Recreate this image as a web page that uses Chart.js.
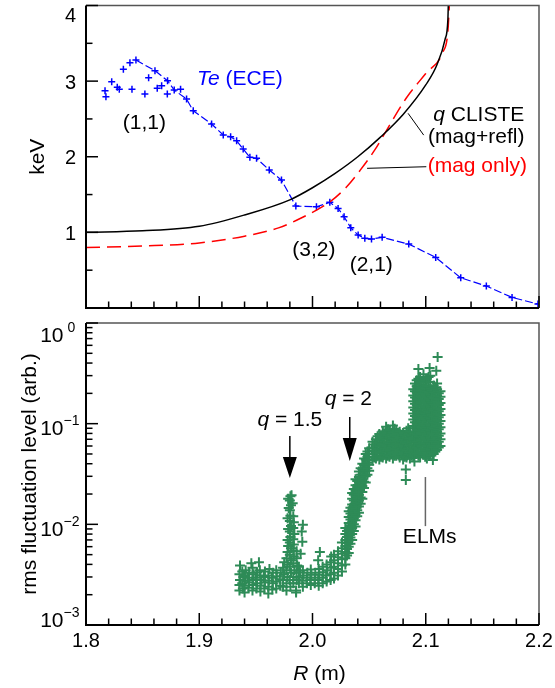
<!DOCTYPE html>
<html>
<head>
<meta charset="utf-8">
<script src="https://cdn.jsdelivr.net/npm/chart.js@4.4.1/dist/chart.umd.min.js"></script>
<style>
  html, body { margin: 0; padding: 0; background: #fff; }
  #wrap { position: relative; width: 555px; height: 688px; }
  canvas { position: absolute; left: 0; }
  #teChart { top: 0; }
  #flucChart { top: 315px; }
</style>
</head>
<body>
<div id="wrap">
  <canvas id="teChart" width="555" height="315"></canvas>
  <canvas id="flucChart" width="555" height="373"></canvas>
</div>
<script>
// ---- top panel: ECE electron temperature and q profiles ----
const teR = [1.8441, 1.8609, 1.872, 1.8779, 1.8888, 1.8947, 1.9109, 1.9212, 1.9277, 1.933, 1.9388,
  1.9447, 1.9506, 1.9618, 1.9726, 1.9853, 2.0035, 2.0153, 2.0226, 2.0279, 2.0338, 2.0403, 2.0462,
  2.0521, 2.0615, 2.085, 2.1088, 2.1309, 2.1535, 2.1762, 2.1991];
const teKeV = [3.279, 3.138, 3.005, 2.882, 2.763, 2.608, 2.433, 2.287, 2.265, 2.212, 2.102,
  1.992, 1.979, 1.824, 1.692, 1.348, 1.339, 1.397, 1.317, 1.206, 1.061, 0.964, 0.921,
  0.911, 0.934, 0.845, 0.669, 0.399, 0.29, 0.14, 0.052];
// scattered points inside the (1,1) region, not joined
const te11R = [1.8168, 1.8176, 1.8227, 1.8276, 1.8294, 1.833, 1.8388, 1.8406, 1.852, 1.8553,
  1.8629, 1.8668, 1.8718, 1.8835];
const te11KeV = [2.873, 2.794, 2.992, 2.918, 2.892, 3.156, 3.243, 2.892, 2.829, 3.045,
  2.905, 2.939, 2.829, 2.892];

const qR = [1.8, 1.85, 1.9, 1.94, 1.98, 2.0, 2.02, 2.04, 2.06, 2.08, 2.1, 2.11, 2.117, 2.1195, 2.12];
const qMagRefl = [1.0, 1.02, 1.08, 1.23, 1.43, 1.59, 1.78, 2.0, 2.26, 2.56, 2.95, 3.22, 3.55, 3.8, 4.05];
const qOnlyR = [1.8, 1.85, 1.9, 1.94, 1.97, 1.99, 2.015, 2.03, 2.042, 2.055, 2.065, 2.083, 2.1, 2.115, 2.1195, 2.121];
const qMagOnly = [0.8, 0.82, 0.86, 0.95, 1.06, 1.19, 1.4, 1.6, 1.82, 2.09, 2.34, 2.78, 3.1, 3.38, 3.65, 4.05];

// ---- axis ticks ----
const xMajor = [1.8, 1.9, 2.0, 2.1, 2.2];
const xMinor = [1.82, 1.84, 1.86, 1.88, 1.92, 1.94, 1.96, 1.98, 2.02, 2.04, 2.06, 2.08, 2.12, 2.14, 2.16, 2.18];
const keVMajor = [1, 2, 3, 4];
const keVMinor = [0.5, 1.5, 2.5, 3.5];
const decades = [1e-3, 1e-2, 1e-1, 1];
const decadeExp = ['\u22123', '\u22122', '\u22121', ' 0'];
const logSteps = [2, 3, 4, 5, 6, 7, 8, 9];

// ---- bottom panel: rms fluctuation level, [R, level] ----
const flatBase = [
  [1.9355,2.2e-3],[1.9355,2.5e-3],[1.936,2.8e-3],[1.9355,3.2e-3],[1.936,3.9e-3],
  [1.9385,2.3e-3],[1.938,2.6e-3],[1.939,3.0e-3],[1.938,3.4e-3],
  [1.940,2.1e-3],[1.940,2.45e-3],[1.941,2.75e-3],[1.940,3.1e-3],[1.941,3.5e-3],
  [1.9435,2.35e-3],[1.944,2.65e-3],[1.943,2.95e-3],[1.944,3.3e-3],
  [1.947,2.2e-3],[1.9475,2.5e-3],[1.947,2.8e-3],[1.948,3.2e-3],[1.947,3.7e-3],[1.946,4.1e-3],
  [1.9505,2.3e-3],[1.951,2.6e-3],[1.950,2.95e-3],[1.951,3.35e-3],
  [1.954,2.15e-3],[1.954,2.45e-3],[1.955,2.8e-3],[1.954,3.1e-3],[1.9535,3.5e-3],[1.9527,4.2e-3],
  [1.9575,2.3e-3],[1.958,2.65e-3],[1.957,3.0e-3],[1.958,3.4e-3],
  [1.961,2.05e-3],[1.961,2.4e-3],[1.9615,2.75e-3],[1.961,3.1e-3],[1.962,3.6e-3],
  [1.9645,2.25e-3],[1.965,2.6e-3],[1.964,2.95e-3],[1.965,3.3e-3],
  [1.968,2.3e-3],[1.968,2.7e-3],[1.9685,3.05e-3],[1.968,3.5e-3],
  [1.9715,2.45e-3],[1.971,2.85e-3],[1.972,3.3e-3]
];
const peak15 = [
  [1.974,2.4e-3],[1.974,2.8e-3],[1.975,3.2e-3],[1.974,3.7e-3],[1.975,4.2e-3],
  [1.977,2.2e-3],[1.977,2.6e-3],[1.978,3.0e-3],[1.977,3.5e-3],[1.978,4.0e-3],[1.977,4.6e-3],[1.978,5.3e-3],
  [1.9785,6.1e-3],[1.978,7.0e-3],[1.9785,9.0e-3],[1.978,1.15e-2],[1.979,1.45e-2],[1.9785,1.8e-2],
  [1.9805,2.4e-3],[1.980,2.8e-3],[1.981,3.3e-3],[1.980,3.8e-3],[1.981,4.4e-3],[1.980,5.0e-3],[1.981,5.8e-3],
  [1.980,6.6e-3],[1.9805,7.5e-3],[1.980,8.5e-3],[1.981,9.6e-3],[1.980,1.08e-2],[1.9805,1.22e-2],
  [1.980,1.38e-2],[1.981,1.55e-2],[1.980,1.72e-2],[1.9805,1.9e-2],
  [1.983,2.6e-3],[1.983,3.0e-3],[1.984,3.5e-3],[1.983,4.1e-3],[1.9835,4.8e-3],[1.983,5.5e-3],[1.9835,6.3e-3],
  [1.983,7.1e-3],[1.984,8.0e-3],[1.983,9.2e-3],[1.9835,1.05e-2],[1.983,1.2e-2],[1.9825,1.62e-2],[1.9815,1.95e-2],
  [1.986,2.8e-3],[1.986,3.3e-3],[1.9865,3.9e-3],[1.986,4.6e-3],[1.986,5.4e-3],[1.9855,2.2e-3]
];
const gapBase = [
  [1.988,2.6e-3],[1.988,2.95e-3],[1.989,3.35e-3],[1.988,3.8e-3],
  [1.9915,2.4e-3],[1.991,2.75e-3],[1.992,3.1e-3],[1.9915,3.5e-3],
  [1.995,2.6e-3],[1.995,2.95e-3],[1.9955,3.3e-3],
  [1.9985,2.5e-3],[1.998,2.8e-3],[1.999,3.15e-3],[1.9985,3.55e-3],
  [2.002,2.6e-3],[2.002,2.95e-3],[2.0025,3.3e-3],
  [2.0055,2.45e-3],[2.005,2.8e-3],[2.006,3.15e-3],[2.0055,3.6e-3],
  [2.009,2.6e-3],[2.009,2.95e-3],[2.0095,3.35e-3],[2.009,3.8e-3],
  [2.0125,2.7e-3],[2.012,3.1e-3],[2.013,3.5e-3],[2.0125,4.0e-3],
  [2.016,2.8e-3],[2.016,3.2e-3],[2.0165,3.7e-3],[2.016,4.2e-3],[2.0165,4.8e-3]
];
const strays = [
  [1.9915,9.9e-3],[1.9905,8.5e-3],[1.991,6.7e-3],[1.9895,5.1e-3],[2.0065,5.3e-3],[2.005,4.4e-3],
  [1.9855,2.1e-3],[2.0824,3.5e-2],[2.0824,2.75e-2],[2.090,4.2e-2],[2.1063,4.35e-2],[2.1105,0.46],
  [2.0935,0.35],[2.1034,0.357],[2.1093,0.335]
];
// [R, level, level, ...]
const riseCols = [
  [2.019, 2.9e-3,3.3e-3,3.8e-3,4.4e-3,5.0e-3],
  [2.0225, 3.1e-3,3.6e-3,4.1e-3,4.7e-3,5.4e-3],
  [2.026, 3.4e-3,3.9e-3,4.5e-3,5.1e-3,5.8e-3,6.6e-3],
  [2.029, 4.0e-3,4.6e-3,5.3e-3,6.1e-3,7.0e-3,8.0e-3,9.2e-3],
  [2.0305, 4.9e-3,5.7e-3,6.5e-3,7.5e-3,8.6e-3],
  [2.032, 5.2e-3,6.0e-3,6.9e-3,7.9e-3,9.0e-3,1.03e-2,1.18e-2,1.35e-2],
  [2.0335, 6.4e-3,7.4e-3,8.6e-3,9.8e-3,1.12e-2,1.28e-2,1.46e-2],
  [2.035, 7.0e-3,8.0e-3,9.2e-3,1.05e-2,1.2e-2,1.37e-2,1.57e-2,1.8e-2,2.05e-2],
  [2.0365, 8.6e-3,1.0e-2,1.15e-2,1.32e-2,1.52e-2,1.72e-2,1.97e-2,2.25e-2],
  [2.038, 9.5e-3,1.1e-2,1.26e-2,1.44e-2,1.65e-2,1.9e-2,2.15e-2,2.45e-2,2.8e-2],
  [2.0395, 1.2e-2,1.38e-2,1.58e-2,1.8e-2,2.06e-2,2.35e-2,2.7e-2],
  [2.041, 1.3e-2,1.5e-2,1.72e-2,1.97e-2,2.25e-2,2.6e-2,2.95e-2,3.35e-2],
  [2.0425, 1.6e-2,1.85e-2,2.1e-2,2.4e-2,2.75e-2,3.1e-2,3.6e-2],
  [2.044, 1.8e-2,2.1e-2,2.4e-2,2.75e-2,3.1e-2,3.55e-2,4.0e-2],
  [2.0455, 2.3e-2,2.65e-2,3.0e-2,3.45e-2,3.9e-2,4.5e-2],
  [2.047, 2.6e-2,3.0e-2,3.4e-2,3.9e-2,4.4e-2,5.0e-2],
  [2.0485, 3.1e-2,3.6e-2,4.1e-2,4.7e-2,5.3e-2],
  [2.050, 3.4e-2,3.9e-2,4.4e-2,5.0e-2,5.7e-2]
];
const plateauCols = [
  [2.053, 4.3e-2,5.0e-2,5.8e-2,6.6e-2],
  [2.0545, 4.6e-2,5.4e-2,6.2e-2],
  [2.056, 4.5e-2,5.2e-2,6.0e-2,7.0e-2],
  [2.0575, 4.8e-2,5.6e-2,6.5e-2,7.5e-2],
  [2.059, 4.4e-2,5.1e-2,5.9e-2,6.8e-2,7.9e-2],
  [2.0605, 4.7e-2,5.5e-2,6.4e-2,7.4e-2],
  [2.062, 4.6e-2,5.3e-2,6.2e-2,7.2e-2,8.4e-2],
  [2.0635, 4.9e-2,5.7e-2,6.6e-2,7.7e-2],
  [2.065, 4.5e-2,5.2e-2,6.0e-2,7.0e-2,8.1e-2,9.3e-2],
  [2.0665, 4.8e-2,5.6e-2,6.5e-2,7.6e-2,8.8e-2],
  [2.068, 4.7e-2,5.4e-2,6.3e-2,7.3e-2,8.5e-2],
  [2.0695, 5.0e-2,5.8e-2,6.7e-2,7.8e-2],
  [2.071, 4.5e-2,5.2e-2,6.1e-2,7.1e-2,8.2e-2,9.6e-2],
  [2.0725, 4.8e-2,5.6e-2,6.6e-2,7.7e-2,8.9e-2],
  [2.074, 4.8e-2,5.5e-2,6.4e-2,7.4e-2,8.6e-2],
  [2.0755, 5.0e-2,5.8e-2,6.8e-2,7.9e-2],
  [2.077, 4.6e-2,5.3e-2,6.2e-2,7.2e-2,8.3e-2],
  [2.0785, 4.9e-2,5.7e-2,6.6e-2,7.7e-2],
  [2.080, 4.4e-2,5.1e-2,6.0e-2,7.0e-2,8.1e-2],
  [2.0815, 4.7e-2,5.5e-2,6.5e-2,7.6e-2],
  [2.083, 4.6e-2,5.4e-2,6.3e-2,7.3e-2,8.5e-2],
  [2.0845, 4.9e-2,5.7e-2,6.7e-2,7.8e-2,9.0e-2],
  [2.086, 4.5e-2,5.2e-2,6.1e-2,7.1e-2,8.3e-2],
  [2.0875, 4.8e-2,5.6e-2,6.5e-2,7.6e-2]
];
const elmCols = [
  [2.089, 0.047,0.054,0.062,0.072,0.083,0.095,0.11,0.126,0.145,0.167,0.19,0.22],
  [2.0905, 0.05,0.058,0.067,0.078,0.09,0.103,0.119,0.137,0.158,0.182,0.21,0.25],
  [2.092, 0.05,0.058,0.066,0.077,0.088,0.10,0.117,0.135,0.155,0.178,0.205,0.235,0.27],
  [2.0935, 0.048,0.056,0.064,0.074,0.085,0.098,0.113,0.13,0.15,0.173,0.2,0.23,0.28],
  [2.095, 0.046,0.053,0.061,0.070,0.081,0.093,0.107,0.123,0.14,0.162,0.186,0.214,0.245,0.29],
  [2.0965, 0.051,0.059,0.068,0.079,0.091,0.105,0.121,0.139,0.16,0.184,0.212,0.26],
  [2.098, 0.049,0.056,0.065,0.075,0.086,0.099,0.114,0.13,0.15,0.172,0.198,0.228,0.26,0.31],
  [2.0995, 0.047,0.054,0.063,0.072,0.083,0.096,0.11,0.127,0.146,0.168,0.193,0.222,0.27],
  [2.101, 0.045,0.052,0.06,0.069,0.079,0.091,0.105,0.12,0.138,0.16,0.184,0.21,0.24,0.28],
  [2.1025, 0.05,0.057,0.066,0.076,0.088,0.1,0.116,0.133,0.153,0.176,0.202,0.232,0.29],
  [2.104, 0.048,0.055,0.064,0.073,0.085,0.097,0.112,0.128,0.148,0.17,0.195,0.225,0.26,0.3],
  [2.1055, 0.052,0.06,0.069,0.079,0.092,0.106,0.122,0.14,0.161,0.185,0.215],
  [2.107, 0.05,0.058,0.067,0.077,0.089,0.102,0.118,0.135,0.156,0.18,0.205,0.24],
  [2.1085, 0.053,0.061,0.07,0.081,0.093,0.107,0.123,0.142,0.163,0.188,0.23],
  [2.110, 0.055,0.063,0.072,0.083,0.095,0.11,0.126,0.145,0.167,0.19,0.22,0.25],
  [2.1115, 0.058,0.066,0.076,0.088,0.1,0.116,0.133,0.153,0.176,0.2],
  [2.113, 0.06,0.07,0.08,0.092,0.106,0.122,0.14,0.16,0.185,0.21]
];

// ---- helpers ----
const FAMILY = '"Liberation Sans", Arial, Helvetica, sans-serif';
const font = (size, italic) => (italic ? 'italic ' : '') + size + 'px ' + FAMILY;
const pts = (xs, ys) => xs.map((r, i) => ({ x: r, y: ys[i] }));
const pairPts = list => list.map(([r, v]) => ({ x: r, y: v }));
const colPts = cols => cols.flatMap(([r, ...lv]) => lv.map(v => ({ x: r, y: v })));

// draw text made of [string, italic] parts
function rich(ctx, parts, x, y, o) {
  const size = o.size || 21;
  let w = 0;
  parts.forEach(p => { ctx.font = font(size, p[1]); w += ctx.measureText(p[0]).width; });
  let cx = o.align === 'center' ? x - w / 2 : o.align === 'right' ? x - w : x;
  ctx.fillStyle = o.color || '#000';
  ctx.textAlign = 'left';
  ctx.textBaseline = o.baseline || 'middle';
  parts.forEach(p => {
    ctx.font = font(size, p[1]);
    ctx.fillText(p[0], cx, y);
    cx += ctx.measureText(p[0]).width;
  });
}

function line(ctx, x1, y1, x2, y2) {
  ctx.beginPath(); ctx.moveTo(x1, y1); ctx.lineTo(x2, y2); ctx.stroke();
}

function framePlugin(yMajor, yMinor, drawText) {
  return {
    id: 'frame',
    afterDraw(chart) {
      const { ctx, chartArea: a, scales: { x, y } } = chart;
      ctx.save();
      ctx.strokeStyle = '#555';
      ctx.lineWidth = 1.5;
      ctx.beginPath();
      ctx.moveTo(a.left, a.top); ctx.lineTo(a.right, a.top); ctx.lineTo(a.right, a.bottom);
      ctx.stroke();
      ctx.strokeStyle = '#000';
      ctx.lineWidth = 2;
      ctx.beginPath();
      ctx.moveTo(a.left, a.top); ctx.lineTo(a.left, a.bottom); ctx.lineTo(a.right, a.bottom);
      ctx.stroke();
      ctx.lineWidth = 1.5;
      xMajor.forEach(v => { const px = x.getPixelForValue(v); line(ctx, px, a.bottom, px, a.bottom - 12); });
      xMinor.forEach(v => { const px = x.getPixelForValue(v); line(ctx, px, a.bottom, px, a.bottom - 6.5); });
      yMajor.forEach(v => { const py = y.getPixelForValue(v); line(ctx, a.left, py, a.left + 12, py); });
      yMinor.forEach(v => { const py = y.getPixelForValue(v); line(ctx, a.left, py, a.left + 6.5, py); });
      drawText(ctx, chart);
      ctx.restore();
    }
  };
}

const baseOptions = (yScale, padding) => ({
  responsive: false,
  animation: false,
  events: [],
  layout: { padding },
  plugins: { legend: { display: false }, tooltip: { enabled: false } },
  scales: {
    x: { type: 'linear', min: 1.8, max: 2.2, display: false },
    y: yScale
  }
});

// ---- top chart ----
const teNotes = [
  { R: 1.9359, v: 3.028, parts: [['Te', true], [' (ECE)', false]], color: '#0000ff' },
  { R: 1.8516, v: 2.446, parts: [['(1,1)', false]] },
  { R: 2.1468, v: 2.545, parts: [['q', true], [' CLISTE', false]] },
  { R: 2.1446, v: 2.261, parts: [['(mag+refl)', false]] },
  { R: 2.1455, v: 1.877, parts: [['(mag only)', false]], color: '#ff0000' },
  { R: 2.0012, v: 0.766, parts: [['(3,2)', false]] },
  { R: 2.0519, v: 0.567, parts: [['(2,1)', false]] }
];
const teLeaders = [
  [2.0844, 2.574, 2.0982, 2.286],
  [2.0482, 1.847, 2.1005, 1.868]
];

new Chart(document.getElementById('teChart'), {
  type: 'scatter',
  data: {
    datasets: [
      { data: pts(qR, qMagRefl), showLine: true, borderColor: '#000', borderWidth: 1.5,
        pointRadius: 0, cubicInterpolationMode: 'monotone' },
      { data: pts(qOnlyR, qMagOnly), showLine: true, borderColor: '#ff0000', borderWidth: 1.5,
        borderDash: [14, 7], pointRadius: 0, cubicInterpolationMode: 'monotone' },
      { data: pts(teR, teKeV), showLine: true, borderColor: '#0000ff', borderWidth: 1.2,
        borderDash: [8, 3], pointStyle: 'cross', pointRadius: 3.5, pointBorderWidth: 1.5,
        pointBorderColor: '#0000ff' },
      { data: pts(te11R, te11KeV), showLine: false, pointStyle: 'cross', pointRadius: 3.5,
        pointBorderWidth: 1.5, pointBorderColor: '#0000ff' }
    ]
  },
  options: baseOptions({ type: 'linear', min: 0, max: 4, display: false },
    { left: 86, right: 16, top: 5.5, bottom: 7 }),
  plugins: [framePlugin(keVMajor, keVMinor, (ctx, chart) => {
    const { chartArea: a, scales: { x, y } } = chart;
    ctx.fillStyle = '#000';
    ctx.font = font(20);
    ctx.textAlign = 'right';
    ctx.textBaseline = 'alphabetic';
    keVMajor.forEach(v => {
      const base = Math.max(y.getPixelForValue(v) + 7.5, a.top + 16.5);
      ctx.fillText(String(v), a.left - 10, base);
    });
    ctx.save();
    ctx.translate(38, (a.top + a.bottom) / 2);
    ctx.rotate(-Math.PI / 2);
    rich(ctx, [['keV', false]], 0, 0, { align: 'center' });
    ctx.restore();
    teNotes.forEach(n => rich(ctx, n.parts, x.getPixelForValue(n.R), y.getPixelForValue(n.v),
      { align: 'center', color: n.color }));
    ctx.strokeStyle = '#000';
    ctx.lineWidth = 1;
    teLeaders.forEach(([r1, v1, r2, v2]) => line(ctx, x.getPixelForValue(r1), y.getPixelForValue(v1),
      x.getPixelForValue(r2), y.getPixelForValue(v2)));
  })]
});

// ---- bottom chart ----
const flucNotes = [
  { R: 1.98, v: 0.1076, parts: [['q', true], [' = 1.5', false]] },
  { R: 2.0316, v: 0.174, parts: [['q', true], [' = 2', false]] },
  { R: 2.1035, v: 0.0074, parts: [['ELMs', false]] }
];
const flucArrows = [
  [1.98, 0.0755, 0.0467, 0.0289],
  [2.0329, 0.1165, 0.0721, 0.0426]
];
const elmLeader = [2.0997, 0.0295, 0.0096];
const logMinor = decades.slice(0, 3).flatMap(d => logSteps.map(s => s * d));

new Chart(document.getElementById('flucChart'), {
  type: 'scatter',
  data: {
    datasets: [{
      data: [...pairPts(flatBase), ...pairPts(peak15), ...pairPts(gapBase), ...colPts(riseCols),
        ...colPts(plateauCols), ...colPts(elmCols), ...pairPts(strays)],
      pointStyle: 'cross', pointRadius: 5, pointBorderWidth: 2,
      pointBorderColor: '#2e8b57', pointBackgroundColor: '#2e8b57'
    }]
  },
  options: baseOptions({ type: 'logarithmic', min: 1e-3, max: 1, display: false },
    { left: 86, right: 16, top: 8, bottom: 63 }),
  plugins: [framePlugin(decades, logMinor, (ctx, chart) => {
    const { chartArea: a, scales: { x, y } } = chart;
    ctx.fillStyle = '#000';
    ctx.textBaseline = 'alphabetic';
    decades.forEach((v, i) => {
      let base = y.getPixelForValue(v) + 11.5;
      const top = base - 20;
      if (top < a.top - 1) base += a.top - 1 - top;
      if (base > a.bottom + 2) base = a.bottom + 2;
      ctx.font = font(21);
      ctx.textAlign = 'right';
      ctx.fillText('10', a.left - 22.5, base);
      ctx.font = font(14);
      ctx.textAlign = 'left';
      ctx.fillText(decadeExp[i], a.left - 22.5, base - 10);
    });
    ctx.font = font(20);
    ctx.textAlign = 'center';
    xMajor.forEach(v => ctx.fillText(v.toFixed(1), x.getPixelForValue(v), a.bottom + 22));
    rich(ctx, [['R', true], [' (m)', false]], (a.left + a.right) / 2 + 7, a.bottom + 55,
      { align: 'center', baseline: 'alphabetic' });
    ctx.save();
    ctx.translate(30, (a.top + a.bottom) / 2);
    ctx.rotate(-Math.PI / 2);
    rich(ctx, [['rms fluctuation level (arb.)', false]], 0, 0, { align: 'center' });
    ctx.restore();
    flucNotes.forEach(n => rich(ctx, n.parts, x.getPixelForValue(n.R), y.getPixelForValue(n.v),
      { align: 'center' }));
    ctx.strokeStyle = '#000';
    ctx.fillStyle = '#000';
    ctx.lineWidth = 1.5;
    flucArrows.forEach(([r, top, head, tip]) => {
      const px = x.getPixelForValue(r);
      const hy = y.getPixelForValue(head);
      line(ctx, px, y.getPixelForValue(top), px, hy);
      ctx.beginPath();
      ctx.moveTo(px - 7, hy); ctx.lineTo(px + 7, hy); ctx.lineTo(px, y.getPixelForValue(tip));
      ctx.closePath();
      ctx.fill();
    });
    ctx.strokeStyle = '#666';
    const ex = x.getPixelForValue(elmLeader[0]);
    line(ctx, ex, y.getPixelForValue(elmLeader[1]), ex, y.getPixelForValue(elmLeader[2]));
  })]
});
</script>
</body>
</html>
